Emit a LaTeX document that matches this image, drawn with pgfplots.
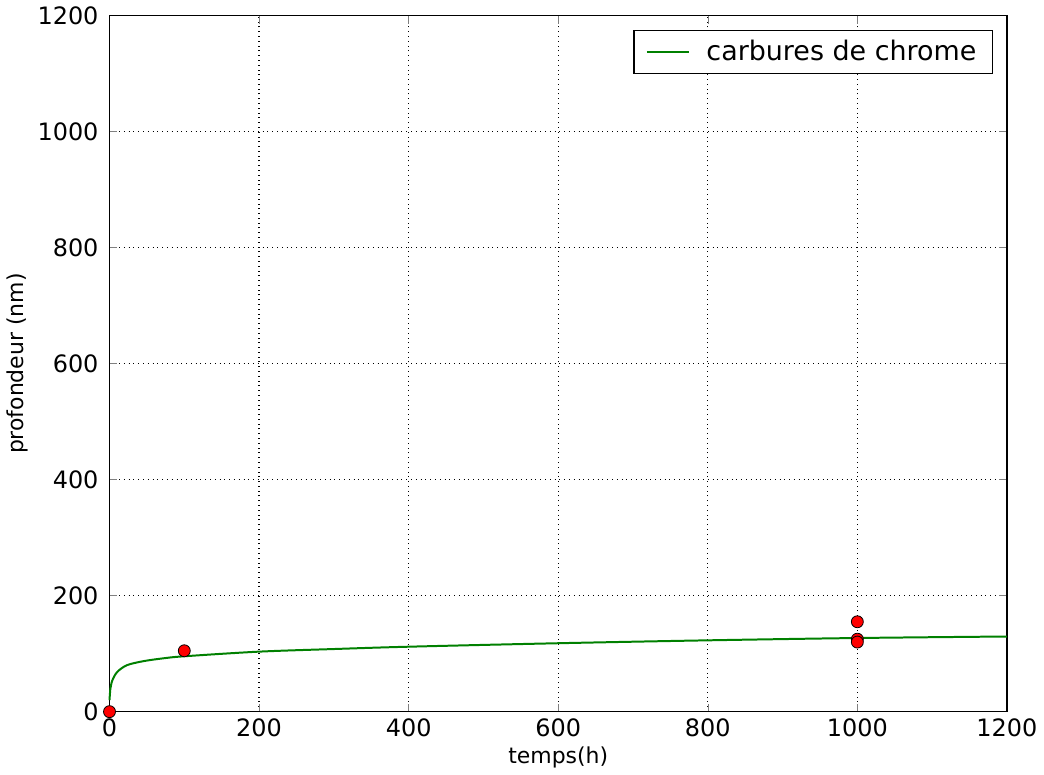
\documentclass[border=0pt]{standalone}
\usepackage{fontspec}
\setmainfont{DejaVu Sans}
\usepackage{pgfplots}
\pgfplotsset{compat=1.18}
\begin{document}
\begin{tikzpicture}
\begin{axis}[
  scale only axis,
  width=450pt, height=349pt,
  xmin=0, xmax=1200, ymin=0, ymax=1200,
  xtick={0,200,...,1200}, ytick={0,200,...,1200},
  /pgf/number format/assume math mode=true,
  /pgf/number format/1000 sep={},
  tick label style={font=\fontsize{12}{14}\selectfont},
  yticklabel style={xshift=-2pt},
  tick align=inside,
  major tick length=4pt,
  xtick pos=both, ytick pos=both,
  grid=major,
  major grid style={black, dotted, line width=0.6pt},
  axis line style={black, line width=0.8pt},
  xlabel={temps(h)}, ylabel={profondeur (nm)},
  label style={font=\fontsize{11}{13}\selectfont},
  xlabel style={yshift=2pt},
  ylabel style={yshift=-2pt},
  legend style={at={(rel axis cs:1,1)}, anchor=north east, xshift=-7pt, yshift=-7pt,
    font=\fontsize{13.5}{16}\selectfont, draw=black, line width=0.6pt,
    inner xsep=6pt, inner ysep=3pt},
  legend cell align=left,
  legend image code/.code={\draw[#1] (0cm,0cm) -- (0.75cm,0cm);},
  clip=false,
]
\addplot[color={rgb,255:red,0;green,128;blue,0}, line width=1pt, smooth] coordinates {
 (0,20) (0.5,30) (1,38) (3.5,53) (10,68) (23,80) (45,87) (72,92)
 (100,95.5) (200,103.5) (300,108) (400,112) (600,118) (800,123) (1000,127) (1200,129.6)
};
\addlegendentry{\hspace{6pt}carbures de chrome}
\addplot[only marks, mark=*, mark size=3pt, mark options={fill=red, draw=black, line width=0.4pt}, forget plot] coordinates {
 (0,0) (100,105) (1000,155) (1000,125) (1000,120)
};
\end{axis}
\end{tikzpicture}
\end{document}
